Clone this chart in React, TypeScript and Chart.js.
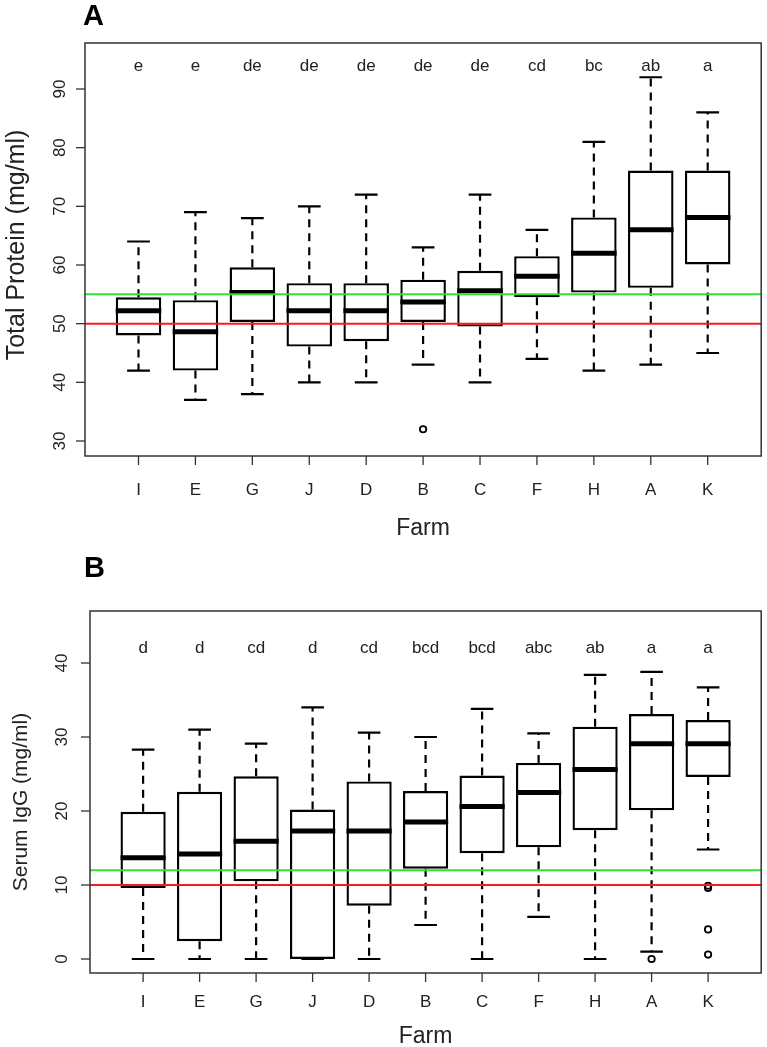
import React, { useEffect, useRef } from "react";
import { Chart, registerables } from "chart.js";

Chart.register(...registerables);

// ---------------- data ----------------
const farms = ["I", "E", "G", "J", "D", "B", "C", "F", "H", "A", "K"];

// Panel A: Total Protein (mg/ml)
const proteinLow = [42, 37, 38, 40, 40, 43, 40, 44, 42, 43, 45];
const proteinQ1 = [48, 42, 50.3, 46.1, 47, 50.3, 49.5, 54.5, 55.3, 56.1, 60.1];
const proteinMedian = [52.2, 48.6, 55.3, 52.2, 52.2, 53.7, 55.6, 58.1, 62, 66, 68.1];
const proteinQ3 = [54.5, 54, 59.6, 56.9, 56.9, 57.5, 59, 61.5, 68.1, 76.1, 76.1];
const proteinHigh = [64, 69, 68, 70, 72, 63, 72, 66, 81, 92, 86];
const proteinOutlierFarms = ["B"];
const proteinOutlierValues = [32];
const proteinLetters = ["e", "e", "de", "de", "de", "de", "de", "cd", "bc", "ab", "a"];
const proteinTicks = [30, 40, 50, 60, 70, 80, 90];
const proteinRed = 50;
const proteinGreen = 55;

// Panel B: Serum IgG (mg/ml)
const iggLow = [0, 0, 0, 0, 0, 4.6, 0, 5.7, 0, 1.0, 14.8];
const iggQ1 = [9.6, 2.4, 10.5, 0, 7.2, 12.2, 14.3, 15.1, 17.4, 20.1, 24.6];
const iggMedian = [13.7, 14.2, 15.9, 17.3, 17.3, 18.5, 20.6, 22.5, 25.6, 29.1, 29.1];
const iggQ3 = [19.9, 22.6, 24.7, 20.2, 24.0, 22.7, 24.8, 26.5, 31.4, 33.1, 32.3];
const iggHigh = [28.3, 31.0, 29.1, 34.0, 30.6, 30.0, 33.8, 30.5, 38.4, 38.8, 36.7];
const iggOutlierFarms = ["A", "K", "K", "K", "K"];
const iggOutlierValues = [0, 9.9, 9.6, 4.0, 0.6];
const iggLetters = ["d", "d", "cd", "d", "cd", "bcd", "bcd", "abc", "ab", "a", "a"];
const iggTicks = [0, 10, 20, 30, 40];
const iggRed = 10;
const iggGreen = 12;

// ---------------- styling / layout ----------------
const FONT = "'Liberation Sans', Arial, Helvetica, sans-serif";
const BOX_HALF = 0.4;
const CAP_HALF = 0.2;
const RED = "#f41c1c";
const GREEN = "#2fe32f";
const TEXT = "#222";

type Panel = {
  key: string;
  title: string;
  yTitle: string;
  low: number[];
  q1: number[];
  med: number[];
  q3: number[];
  high: number[];
  outFarms: string[];
  outVals: number[];
  letters: string[];
  ticks: number[];
  red: number;
  green: number;
  yMin: number;
  yMax: number;
  letterY: number;
  top: number;
  height: number;
  pad: { left: number; top: number; right: number; bottom: number };
  yTickGap: number;
  xTickBase: number;
  xTitleBase: number;
  yTitleX: number;
  yTitleCenter: number;
  yTitleSize: number;
  letterX: number;
  letterBase: number;
};

const panels: Panel[] = [
  {
    key: "A",
    title: "A",
    yTitle: "Total Protein (mg/ml)",
    low: proteinLow,
    q1: proteinQ1,
    med: proteinMedian,
    q3: proteinQ3,
    high: proteinHigh,
    outFarms: proteinOutlierFarms,
    outVals: proteinOutlierValues,
    letters: proteinLetters,
    ticks: proteinTicks,
    red: proteinRed,
    green: proteinGreen,
    yMin: 27.44,
    yMax: 97.84,
    letterY: 93.8,
    top: 0,
    height: 545,
    pad: { left: 85, top: 43, right: 4, bottom: 89 },
    yTickGap: 20,
    xTickBase: 39,
    xTitleBase: 79,
    yTitleX: 24,
    yTitleCenter: 245,
    yTitleSize: 25,
    letterX: 83,
    letterBase: 25,
  },
  {
    key: "B",
    title: "B",
    yTitle: "Serum IgG (mg/ml)",
    low: iggLow,
    q1: iggQ1,
    med: iggMedian,
    q3: iggQ3,
    high: iggHigh,
    outFarms: iggOutlierFarms,
    outVals: iggOutlierValues,
    letters: iggLetters,
    ticks: iggTicks,
    red: iggRed,
    green: iggGreen,
    yMin: -1.89,
    yMax: 47.03,
    letterY: 42,
    top: 545,
    height: 502,
    pad: { left: 90, top: 66, right: 4, bottom: 74 },
    yTickGap: 23,
    xTickBase: 34,
    xTitleBase: 70,
    yTitleX: 27,
    yTitleCenter: 257,
    yTitleSize: 21,
    letterX: 84,
    letterBase: 32,
  },
];

function makePlugin(p: Panel) {
  return {
    id: "boxExtras" + p.key,
    afterDatasetsDraw(chart: any) {
      const { ctx, chartArea: ca } = chart;
      const x = chart.scales.x;
      const y = chart.scales.y;
      ctx.save();

      // whiskers, caps, medians
      farms.forEach((_f, i) => {
        const pos = i + 1;
        const cx = x.getPixelForValue(pos);
        const capL = x.getPixelForValue(pos - CAP_HALF);
        const capR = x.getPixelForValue(pos + CAP_HALF);
        const boxL = x.getPixelForValue(pos - BOX_HALF);
        const boxR = x.getPixelForValue(pos + BOX_HALF);
        const yLow = y.getPixelForValue(p.low[i]);
        const yQ1 = y.getPixelForValue(p.q1[i]);
        const yQ3 = y.getPixelForValue(p.q3[i]);
        const yHigh = y.getPixelForValue(p.high[i]);
        const yMed = y.getPixelForValue(p.med[i]);

        ctx.strokeStyle = "#000";
        ctx.lineWidth = 2.2;
        ctx.lineCap = "butt";
        ctx.setLineDash([8, 6]);
        ctx.beginPath();
        if (p.high[i] > p.q3[i]) {
          ctx.moveTo(cx, yQ3);
          ctx.lineTo(cx, yHigh);
        }
        if (p.low[i] < p.q1[i]) {
          ctx.moveTo(cx, yQ1);
          ctx.lineTo(cx, yLow);
        }
        ctx.stroke();

        ctx.setLineDash([]);
        ctx.beginPath();
        ctx.moveTo(capL, yHigh);
        ctx.lineTo(capR, yHigh);
        ctx.moveTo(capL, yLow);
        ctx.lineTo(capR, yLow);
        ctx.stroke();

        ctx.lineWidth = 5;
        ctx.beginPath();
        ctx.moveTo(boxL, yMed);
        ctx.lineTo(boxR, yMed);
        ctx.stroke();
      });

      // reference lines
      ctx.lineWidth = 2;
      ctx.strokeStyle = GREEN;
      ctx.beginPath();
      ctx.moveTo(ca.left, y.getPixelForValue(p.green));
      ctx.lineTo(ca.right, y.getPixelForValue(p.green));
      ctx.stroke();
      ctx.strokeStyle = RED;
      ctx.beginPath();
      ctx.moveTo(ca.left, y.getPixelForValue(p.red));
      ctx.lineTo(ca.right, y.getPixelForValue(p.red));
      ctx.stroke();

      // frame
      ctx.strokeStyle = "#333";
      ctx.lineWidth = 1.5;
      ctx.strokeRect(ca.left, ca.top, ca.right - ca.left, ca.bottom - ca.top);

      // y ticks + labels
      ctx.fillStyle = TEXT;
      ctx.font = `17px ${FONT}`;
      ctx.lineWidth = 1.3;
      p.ticks.forEach((t) => {
        const py = y.getPixelForValue(t);
        ctx.beginPath();
        ctx.moveTo(ca.left - 9, py);
        ctx.lineTo(ca.left, py);
        ctx.stroke();
        ctx.save();
        ctx.translate(ca.left - p.yTickGap, py);
        ctx.rotate(-Math.PI / 2);
        ctx.textAlign = "center";
        ctx.textBaseline = "alphabetic";
        ctx.fillText(String(t), 0, 0);
        ctx.restore();
      });

      // x ticks + labels
      ctx.textAlign = "center";
      ctx.textBaseline = "alphabetic";
      farms.forEach((f, i) => {
        const px = x.getPixelForValue(i + 1);
        ctx.beginPath();
        ctx.moveTo(px, ca.bottom);
        ctx.lineTo(px, ca.bottom + 9);
        ctx.stroke();
        ctx.fillText(f, px, ca.bottom + p.xTickBase);
      });

      // group letters
      ctx.font = `17px ${FONT}`;
      ctx.textBaseline = "middle";
      p.letters.forEach((l, i) => {
        ctx.fillText(l, x.getPixelForValue(i + 1), y.getPixelForValue(p.letterY));
      });

      // axis titles
      ctx.textBaseline = "alphabetic";
      ctx.font = `23px ${FONT}`;
      ctx.fillText("Farm", (ca.left + ca.right) / 2, ca.bottom + p.xTitleBase);
      ctx.save();
      ctx.translate(p.yTitleX, p.yTitleCenter);
      ctx.rotate(-Math.PI / 2);
      ctx.font = `${p.yTitleSize}px ${FONT}`;
      ctx.fillText(p.yTitle, 0, 0);
      ctx.restore();

      // panel letter
      ctx.fillStyle = "#000";
      ctx.font = `bold 29px ${FONT}`;
      ctx.textAlign = "left";
      ctx.fillText(p.title, p.letterX, p.letterBase);

      ctx.restore();
    },
  };
}

function BoxPanel({ p }: { p: Panel }) {
  const ref = useRef<HTMLCanvasElement | null>(null);
  useEffect(() => {
    if (!ref.current) return;
    const boxes = farms.map((_f, i) => ({ x: i + 1, y: [p.q1[i], p.q3[i]] }));
    const outliers = p.outFarms.map((f, i) => ({ x: farms.indexOf(f) + 1, y: p.outVals[i] }));
    const chart = new Chart(ref.current, {
      type: "bar",
      data: {
        datasets: [
          {
            type: "bar",
            data: boxes as any,
            backgroundColor: "#fff",
            borderColor: "#000",
            borderWidth: 2.4,
            borderSkipped: false,
            categoryPercentage: 0.8,
            barPercentage: 1.0,
            order: 2,
          } as any,
          {
            type: "scatter",
            data: outliers,
            pointStyle: "circle",
            pointRadius: 3.2,
            pointBorderWidth: 1.8,
            pointBorderColor: "#000",
            pointBackgroundColor: "rgba(0,0,0,0)",
            showLine: false,
            order: 1,
          } as any,
        ],
      },
      options: {
        responsive: false,
        maintainAspectRatio: false,
        devicePixelRatio: 1,
        animation: false,
        layout: { padding: p.pad },
        plugins: { legend: { display: false }, tooltip: { enabled: false } },
        scales: {
          x: { type: "linear", display: false, min: 0.06, max: 11.94, offset: false },
          y: { type: "linear", display: false, min: p.yMin, max: p.yMax },
        },
      },
      plugins: [makePlugin(p)],
    });
    return () => chart.destroy();
  }, [p]);
  return (
    <canvas
      ref={ref}
      width={767}
      height={p.height}
      style={{ position: "absolute", left: 0, top: p.top, width: 767, height: p.height }}
    />
  );
}

export default function App() {
  return (
    <div style={{ position: "absolute", left: 0, top: 0, width: 767, height: 1047, background: "#fff" }}>
      {panels.map((p) => (
        <BoxPanel key={p.key} p={p} />
      ))}
    </div>
  );
}
